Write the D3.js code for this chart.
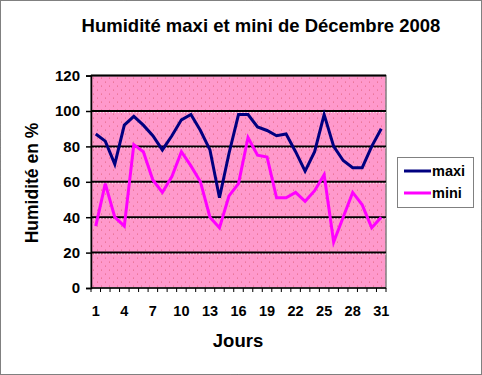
<!DOCTYPE html>
<html>
<head>
<meta charset="utf-8">
<script src="https://cdn.jsdelivr.net/npm/d3@7"></script>
<style>
  body { margin: 0; background: #fff; }
  svg text { font-family: "Liberation Sans", Arial, sans-serif; font-weight: bold; fill: #000; }
</style>
</head>
<body>
<div id="chart"></div>
<script>
// humidity, december 2008

const days = d3.range(1, 32);
const maxi = [87, 83, 70, 92, 97, 92, 86, 78, 86, 95, 98, 89, 78, 51, 76, 98,
              98, 91, 89, 86, 87, 77, 66, 77, 98, 80, 72, 68, 68, 80, 90];
const mini = [35, 59, 40, 35, 81, 77, 61, 54, 63, 77, 69, 60, 40, 34, 52, 59,
              85, 75, 74, 51, 51, 54, 49, 55, 64, 26, 40, 54, 47, 34, 40];
const yTicks = [0, 20, 40, 60, 80, 100, 120];
const xTickLabels = [1, 4, 7, 10, 13, 16, 19, 22, 25, 28, 31];
const seriesNames = ["maxi", "mini"];
const seriesColors = ["#000080", "#FF00FF"];

const FRAME_WIDTH = 482;
const FRAME_HEIGHT = 375;
const PLOT = {left: 91, right: 386, top: 75.6, bottom: 288};

const svg = d3.select("#chart")
  .append("svg")
    .attr("width", FRAME_WIDTH)
    .attr("height", FRAME_HEIGHT);

// dotted pink fill of the plot area
const defs = svg.append("defs");
const pat = defs.append("pattern")
    .attr("id", "dots")
    .attr("width", 8)
    .attr("height", 8)
    .attr("patternUnits", "userSpaceOnUse")
    .attr("x", PLOT.left)
    .attr("y", PLOT.top);
pat.append("rect").attr("width", 8).attr("height", 8).attr("fill", "#FF99CC");
pat.append("rect").attr("x", 2).attr("y", 2).attr("width", 1).attr("height", 1).attr("fill", "#E0607A");
pat.append("rect").attr("x", 6).attr("y", 6).attr("width", 1).attr("height", 1).attr("fill", "#E0607A");

// outer border
svg.append("rect")
    .attr("x", 0.5).attr("y", 0.5)
    .attr("width", FRAME_WIDTH - 1).attr("height", FRAME_HEIGHT - 1)
    .attr("fill", "none")
    .attr("stroke", "#000")
    .attr("stroke-dasharray", "1,1");

const X_SCALE = d3.scaleBand()
    .domain(days)
    .range([PLOT.left, PLOT.right]);

const Y_SCALE = d3.scaleLinear()
    .domain([0, 120])
    .range([PLOT.bottom, PLOT.top]);

const cx = (d) => X_SCALE(d) + X_SCALE.bandwidth() / 2;

// plot area
svg.append("rect")
    .attr("x", PLOT.left).attr("y", PLOT.top)
    .attr("width", PLOT.right - PLOT.left)
    .attr("height", PLOT.bottom - PLOT.top)
    .attr("fill", "url(#dots)")
    .attr("stroke", "#808080")
    .attr("stroke-width", 1.5);

// gridlines
const grid = svg.append("g");
grid.selectAll("line.g")
    .data(yTicks.filter(t => t > 0))
    .enter()
    .append("line")
      .attr("x1", PLOT.left).attr("x2", PLOT.right)
      .attr("y1", d => Y_SCALE(d)).attr("y2", d => Y_SCALE(d))
      .attr("stroke", "#000")
      .attr("stroke-width", 2);
grid.selectAll("line.w")
    .data(yTicks.filter(t => t > 0 && t < 120))
    .enter()
    .append("line")
      .attr("x1", PLOT.left).attr("x2", PLOT.right)
      .attr("y1", d => Y_SCALE(d) + 1.5).attr("y2", d => Y_SCALE(d) + 1.5)
      .attr("stroke", "#fff")
      .attr("stroke-width", 1)
      .attr("stroke-dasharray", "1,2")
      .attr("opacity", 0.7);

// y axis
const yAxis = svg.append("g")
    .attr("transform", "translate(" + PLOT.left + ",0)")
    .call(d3.axisLeft(Y_SCALE).tickValues(yTicks).tickSize(5).tickPadding(6));
yAxis.select(".domain").attr("stroke", "#000").attr("stroke-width", 1.5);
yAxis.selectAll(".tick line").attr("stroke", "#000").attr("stroke-width", 1.5);
yAxis.selectAll("text")
    .attr("font-size", "15px")
    .attr("font-family", "Liberation Sans, Arial, sans-serif")
    .attr("font-weight", "bold");

// x axis: ticks between categories
const xAxisG = svg.append("g");
xAxisG.append("line")
    .attr("x1", PLOT.left).attr("x2", PLOT.right)
    .attr("y1", PLOT.bottom).attr("y2", PLOT.bottom)
    .attr("stroke", "#000").attr("stroke-width", 1.5);
xAxisG.selectAll("line.t")
    .data(days.concat([32]))
    .enter()
    .append("line")
      .attr("x1", d => d <= 31 ? X_SCALE(d) : PLOT.right)
      .attr("x2", d => d <= 31 ? X_SCALE(d) : PLOT.right)
      .attr("y1", PLOT.bottom).attr("y2", PLOT.bottom + 4)
      .attr("stroke", "#000").attr("stroke-width", 1);
xAxisG.selectAll("text")
    .data(xTickLabels)
    .enter()
    .append("text")
      .attr("x", d => cx(d))
      .attr("y", 316)
      .attr("text-anchor", "middle")
      .attr("font-size", "14.5px")
      .text(d => d);

// lines
const series = [maxi, mini];
const line = d3.line()
    .x((d, i) => cx(days[i]))
    .y(d => Y_SCALE(d));

svg.selectAll("path.series")
    .data(series)
    .enter()
    .append("path")
      .attr("d", d => line(d))
      .attr("fill", "none")
      .attr("stroke", (d, i) => seriesColors[i])
      .attr("stroke-width", 3)
      .attr("stroke-linejoin", "miter");

// title and axis titles
svg.append("text")
    .attr("x", 261).attr("y", 32)
    .attr("text-anchor", "middle")
    .attr("font-size", "18.5px")
    .text("Humidité maxi et mini de Décembre 2008");

svg.append("text")
    .attr("transform", "translate(38,183) rotate(-90)")
    .attr("text-anchor", "middle")
    .attr("font-size", "17.5px")
    .text("Humidité en %");

svg.append("text")
    .attr("x", 238).attr("y", 347)
    .attr("text-anchor", "middle")
    .attr("font-size", "18.5px")
    .text("Jours");

// legend
const legend = svg.append("g");
legend.append("rect")
    .attr("x", 397.5).attr("y", 157.5)
    .attr("width", 76).attr("height", 50)
    .attr("fill", "#fff")
    .attr("stroke", "#808080")
    .attr("stroke-width", 1);
const items = legend.selectAll("g.item")
    .data(seriesNames)
    .enter()
    .append("g")
      .attr("transform", (d, i) => "translate(0," + (171 + i * 22) + ")");
items.append("line")
    .attr("x1", 404).attr("x2", 431)
    .attr("y1", 0).attr("y2", 0)
    .attr("stroke", (d, i) => seriesColors[i])
    .attr("stroke-width", 3);
items.append("text")
    .attr("x", 432).attr("y", 5)
    .attr("font-size", "14.5px")
    .text(d => d);
</script>
</body>
</html>
